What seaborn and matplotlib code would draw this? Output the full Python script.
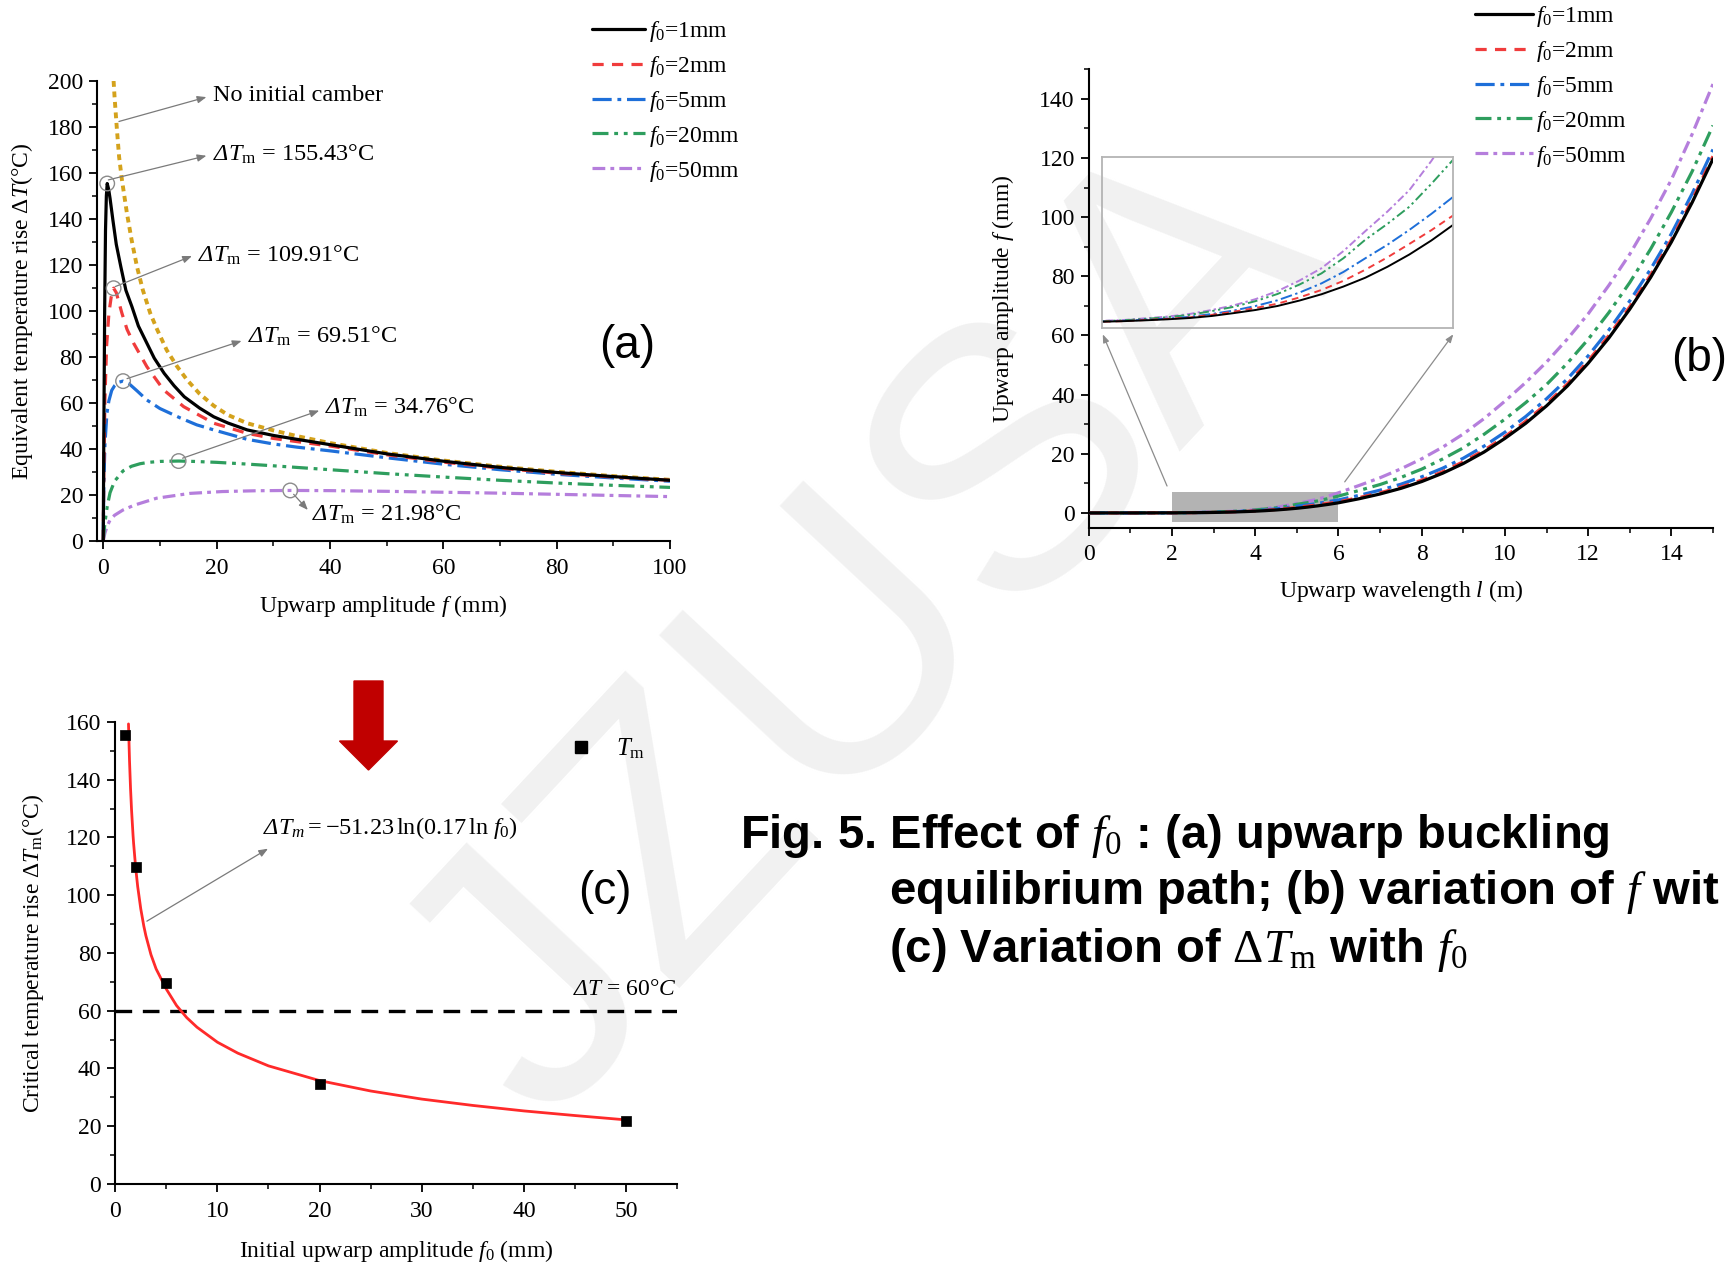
import numpy as np
import pandas as pd
import matplotlib
matplotlib.use("Agg")
import matplotlib.pyplot as plt
import seaborn as sns
from matplotlib.ticker import MultipleLocator
from matplotlib.patches import Rectangle, FancyArrow
from matplotlib.lines import Line2D

# ---------------- data: panel (a) ----------------
a_gold_f = [1.83, 2.0, 2.42, 2.8, 3.3, 4.18, 5.0, 5.95, 7.0, 8.3, 9.5, 11.2, 13, 14.8, 17, 19.5, 22, 25.4, 30, 34.2, 40, 50, 60, 70, 80, 90, 100]
a_gold_T = [200, 193, 178.7, 167, 157, 142.5, 131, 119.3, 109, 99, 92, 83, 76, 70, 64, 58.8, 54.8, 51.2, 48.1, 45.6, 42.6, 38.3, 35.0, 32.3, 30.1, 28.2, 26.6]

a_f1_f = [0, 0.1, 0.25, 0.4, 0.55, 0.7, 0.95, 1.2, 1.7, 2.3, 3.1, 4.0, 5.06, 6.2, 7.7, 9.0, 10.75, 12.5, 14.3, 17, 19.5, 22, 25.4, 30, 34.2, 40, 50, 60, 70, 80, 90, 100]
a_f1_T = [0, 45, 100, 135, 150, 155.43, 153, 149, 139.6, 129, 119.3, 109, 101.9, 93.5, 86, 79.5, 72.9, 67.5, 62.7, 57.8, 54, 51.3, 48.3, 45.9, 44.2, 41.9, 37.9, 34.7, 32.0, 29.8, 28.0, 26.4]

a_f2_f = [0, 0.1, 0.3, 0.6, 1.0, 1.4, 1.83, 2.3, 3.3, 4.2, 5.36, 7.7, 10.65, 14.2, 19.5, 25.4, 30, 34.2, 40, 50, 60, 70, 80, 90, 100]
a_f2_T = [0, 30, 62, 85, 99, 106, 109.91, 108, 99, 92, 86, 75.8, 65.7, 58.4, 51.2, 46.8, 44.6, 43.2, 41.3, 37.5, 34.3, 31.7, 29.5, 27.8, 26.4]

a_f5_f = [0, 0.1, 0.3, 0.65, 1.0, 1.5, 2.0, 2.7, 3.48, 4.5, 6, 7.7, 10, 13.6, 16.5, 19.5, 25.4, 30, 34.2, 40, 50, 60, 70, 80, 90, 100]
a_f5_T = [0, 24, 42, 55.5, 61, 65.5, 67.5, 69, 69.51, 68.5, 65.2, 61.3, 57.6, 53.5, 50.5, 48.3, 44.2, 42.2, 40.8, 39.2, 36.2, 33.4, 31.0, 29.0, 27.4, 26.0]

a_f20_f = [0, 0.3, 0.7, 1.2, 2, 3.5, 5, 6.5, 8, 10, 13.3, 16, 20, 25, 30, 40, 50, 60, 70, 80, 90, 100]
a_f20_T = [0, 8, 15, 21, 26, 30.5, 32.5, 33.6, 34.2, 34.6, 34.76, 34.6, 34.2, 33.5, 32.7, 31.0, 29.3, 27.8, 26.4, 25.2, 24.2, 23.3]

a_f50_f = [0, 0.3, 0.7, 1.2, 2, 3.5, 5.5, 9.4, 15.3, 21, 27, 33, 40, 50, 60, 70, 80, 90, 100]
a_f50_T = [0, 3.5, 6.5, 9.1, 11.2, 13.5, 15.6, 18.6, 20.7, 21.5, 21.85, 21.98, 21.9, 21.6, 21.2, 20.8, 20.3, 19.8, 19.3]

a_peak_f = [0.7, 1.83, 3.5, 13.3, 33.0]
a_peak_T = [155.43, 109.91, 69.51, 34.76, 21.98]

# ---------------- data: panel (b) ----------------
b_l = [0, 1, 2, 2.25, 2.5, 2.75, 3, 3.25, 3.5, 3.75, 4, 4.25, 4.5, 4.75, 5, 5.25, 5.5, 5.75, 6,
       6.5, 7, 7.5, 8, 8.5, 9, 9.5, 10, 10.5, 11, 11.5, 12, 12.5, 13, 13.5, 14, 14.5, 15]
b_f1 = [0, 0, 0.03, 0.05, 0.08, 0.115, 0.16, 0.23, 0.33, 0.44, 0.58, 0.77, 0.99, 1.26, 1.57, 1.95, 2.38, 2.87, 3.42,
        4.8, 6.4, 8.3, 10.6, 13.4, 16.7, 20.6, 25.2, 30.3, 36.2, 42.9, 50.6, 59.2, 68.9, 79.6, 91.6, 105.0, 119.7]
b_f2 = [0, 0, 0.03, 0.05, 0.09, 0.13, 0.18, 0.27, 0.38, 0.51, 0.66, 0.88, 1.14, 1.46, 1.85, 2.28, 2.75, 3.23, 3.75,
        5.2, 6.8, 8.75, 11.1, 13.9, 17.3, 21.2, 25.8, 31.0, 36.9, 43.6, 51.4, 60.0, 69.7, 80.4, 92.4, 105.8, 120.6]
b_f5 = [0, 0, 0.04, 0.06, 0.10, 0.14, 0.20, 0.30, 0.42, 0.58, 0.78, 1.05, 1.37, 1.77, 2.25, 2.72, 3.24, 3.80, 4.4,
        5.95, 7.7, 9.7, 12.2, 15.1, 18.5, 22.6, 27.3, 32.6, 38.6, 45.3, 53.1, 61.9, 71.7, 82.4, 94.4, 108.0, 122.9]
b_f20 = [0, 0, 0.05, 0.08, 0.13, 0.19, 0.27, 0.40, 0.55, 0.75, 1.0, 1.33, 1.72, 2.25, 2.9, 3.45, 4.05, 4.85, 5.7,
         7.6, 9.6, 12.0, 14.8, 18.2, 22.0, 26.6, 31.7, 37.3, 43.4, 50.6, 58.7, 67.8, 77.9, 89.2, 101.7, 115.5, 131.0]
b_f50 = [0, 0, 0.06, 0.09, 0.15, 0.21, 0.30, 0.44, 0.60, 0.82, 1.1, 1.47, 1.9, 2.5, 3.2, 3.88, 4.63, 5.65, 6.8,
         9.3, 11.9, 14.9, 18.3, 22.2, 26.7, 31.9, 37.8, 44.1, 51.0, 58.8, 67.3, 77.0, 87.5, 99.5, 112.7, 128.1, 145.0]

# ---------------- data: panel (c) ----------------
c_f0 = [1, 2, 5, 20, 50]
c_Tm = [155.43, 109.91, 69.51, 34.76, 21.98]
c_fit_f0 = [1.3, 1.4, 1.5, 1.6, 1.75, 1.8, 2, 2.2, 2.5, 2.8, 3, 3.5, 4, 4.5, 5, 6, 7, 8, 10, 12, 15, 20, 25, 30, 35, 40, 45, 50]
c_fit_T = [159.3, 146.6, 137.0, 129.5, 120.5, 118.0, 109.6, 103.0, 95.3, 89.3, 86.0, 79.4, 74.5, 71.0, 67.5, 61.8, 57.6, 54.3, 49.1, 45.3, 40.9, 35.8, 32.2, 29.4, 27.2, 25.3, 23.7, 22.2]
c_threshold = 60

legend_labels = [r"$f_0$=1mm", r"$f_0$=2mm", r"$f_0$=5mm", r"$f_0$=20mm", r"$f_0$=50mm"]

# ---------------- styling ----------------
sns.set_theme(style="ticks")
plt.rcParams["font.family"] = ["Liberation Serif", "DejaVu Serif"]
plt.rcParams.update({
    "mathtext.fontset": "custom",
    "mathtext.rm": "Liberation Serif",
    "mathtext.it": "Liberation Serif:italic",
    "mathtext.bf": "Liberation Serif:bold",
    "mathtext.sf": "Liberation Serif:italic",
    "axes.linewidth": 1.5,
    "axes.edgecolor": "black",
    "xtick.color": "black", "ytick.color": "black",
    "xtick.direction": "out", "ytick.direction": "out",
    "xtick.major.size": 6, "ytick.major.size": 6,
    "xtick.minor.size": 3.5, "ytick.minor.size": 3.5,
    "xtick.major.width": 1.3, "ytick.major.width": 1.3,
    "xtick.minor.width": 1.1, "ytick.minor.width": 1.1,
    "xtick.major.pad": 6, "ytick.major.pad": 4,
    "xtick.labelsize": 17, "ytick.labelsize": 17,
    "axes.labelsize": 17, "axes.labelcolor": "black",
    "text.color": "black",
})

COL = ["#000000", "#f03c3c", "#1e6fd9", "#2e9e5e", "#b57edc"]
GOLD = "#d4a21c"
LS = ["-", (0, (3.5, 2.6)), (0, (6, 1.8, 1.2, 1.8)), (0, (5, 1.8, 1.2, 1.8, 1.2, 1.8)), (0, (4, 1.6, 1.2, 1.6))]

W, H = 1731, 1264
def rect(x, y, w, h):
    return [x / W, 1 - (y + h) / H, w / W, h / H]

fig = plt.figure(figsize=(W / 100, H / 100), dpi=100)
fig.patch.set_facecolor("white")

# watermark
fig.text(875 / W, 1 - 632 / H, "JZUSA", rotation=47, fontsize=268, color="#f1f1f1",
         ha="center", va="center", family="Liberation Sans", zorder=-10)

axA = fig.add_axes(rect(97, 81, 573, 460))
axB = fig.add_axes(rect(1088.8, 69.3, 624.2, 458.4))
axC = fig.add_axes(rect(115.2, 721.9, 562.1, 462.1))
for ax in (axA, axB, axC):
    ax.set_facecolor("none")
    sns.despine(ax=ax)

# ---------------- panel (a) ----------------
a_series = [(a_f1_f, a_f1_T), (a_f2_f, a_f2_T), (a_f5_f, a_f5_T), (a_f20_f, a_f20_T), (a_f50_f, a_f50_T)]
sns.lineplot(x=a_gold_f, y=a_gold_T, ax=axA, color=GOLD, lw=2.8, linestyle=(0, (1.5, 1.2)),
             estimator=None, errorbar=None, sort=False)
for i in range(4, -1, -1):
    fx, fy = a_series[i]
    sns.lineplot(x=fx, y=fy, ax=axA, color=COL[i], lw=2.3, linestyle=LS[i],
                 estimator=None, errorbar=None, sort=False)
handlesA = [Line2D([], [], color=COL[i], lw=2.3, linestyle=LS[i]) for i in range(5)]
sns.scatterplot(x=a_peak_f, y=a_peak_T, ax=axA, marker="o", s=110, facecolor="none",
                edgecolor="#8a8a8a", linewidth=1.0, zorder=5)
axA.set_xlim(-1.1, 100)
axA.set_ylim(0, 200)
axA.xaxis.set_major_locator(MultipleLocator(20))
axA.xaxis.set_minor_locator(MultipleLocator(10))
axA.yaxis.set_major_locator(MultipleLocator(20))
axA.yaxis.set_minor_locator(MultipleLocator(10))
axA.set_xlabel(r"Upwarp amplitude $f$ (mm)", labelpad=10)
axA.set_ylabel(r"Equivalent temperature rise $\Delta T$(°C)", labelpad=9)

arrow_kw = dict(arrowstyle="-|>,head_length=0.45,head_width=0.18", color="#7a7a7a", lw=0.9,
                shrinkA=0, shrinkB=0)
DTm = r"$\mathsf{\Delta}\mathit{T}_\mathrm{m}$"
a_notes = [
    ("No initial camber", (19.4, 193.9), (2.77, 182.4), (18.2, 193.0)),
    (DTm + " = 155.43°C", (19.4, 168.0), (0.9, 157.0), (18.2, 167.5)),
    (DTm + " = 109.91°C", (16.8, 124.3), (2.1, 110.6), (15.65, 123.9)),
    (DTm + " = 69.51°C", (25.6, 88.8), (4.2, 70.6), (24.4, 87.0)),
    (DTm + " = 34.76°C", (39.2, 58.1), (14.0, 36.0), (38.1, 56.7)),
    (DTm + " = 21.98°C", (36.9, 11.5), (33.6, 20.3), (36.1, 13.5)),
]
for txt, tpos, s, e in a_notes:
    axA.annotate("", xy=e, xytext=s, arrowprops=arrow_kw, annotation_clip=False)
    axA.text(tpos[0], tpos[1], txt, fontsize=17.5, ha="left", va="center")

fig.legend(handlesA, legend_labels, loc="upper left", bbox_to_anchor=(592 / W, 1 - 19 / H),
           frameon=False, fontsize=17, handlelength=2.25, handletextpad=0.15,
           labelspacing=0.42, borderpad=0, borderaxespad=0)

fig.text(599.5 / W, 1 - 345.5 / H, "(a)", fontsize=33, family="Liberation Sans", ha="left", va="center")

# ---------------- panel (b) ----------------
b_series = [b_f1, b_f2, b_f5, b_f20, b_f50]
axB.add_patch(Rectangle((2, -3), 4, 10, facecolor="#b3b3b3", edgecolor="none", zorder=1))
for i in range(4, -1, -1):
    sns.lineplot(x=b_l, y=b_series[i], ax=axB, color=COL[i], lw=2.3, linestyle=LS[i],
                 estimator=None, errorbar=None, sort=False, zorder=3)
axB.set_xlim(0, 15)
axB.set_ylim(-5, 150)
axB.xaxis.set_major_locator(MultipleLocator(2))
axB.xaxis.set_minor_locator(MultipleLocator(1))
axB.set_yticks(range(0, 141, 20))
axB.yaxis.set_minor_locator(MultipleLocator(10))
axB.set_xlabel(r"Upwarp wavelength $l$ (m)", labelpad=9)
axB.set_ylabel(r"Upwarp amplitude $f$ (mm)", labelpad=17)

axIn = fig.add_axes(rect(1101.7, 156.7, 351.6, 171.6))
axIn.set_facecolor("none")
for i in range(4, -1, -1):
    sns.lineplot(x=b_l, y=b_series[i], ax=axIn, color=COL[i], lw=1.4, linestyle=LS[i],
                 estimator=None, errorbar=None, sort=False)
axIn.set_xlim(2, 6)
axIn.set_ylim(-0.2, 5.8)
axIn.set_xticks([])
axIn.set_yticks([])
axIn.set_xlabel("")
axIn.set_ylabel("")
for sp in axIn.spines.values():
    sp.set_visible(True)
    sp.set_color("#b4b4b4")
    sp.set_linewidth(1.3)

con_kw = dict(arrowstyle="-|>,head_length=0.4,head_width=0.15", color="#8c8c8c", lw=0.9,
              shrinkA=0, shrinkB=0)
axB.annotate("", xy=(0.003, -0.035), xycoords=axIn.transAxes, xytext=(1.88, 9.1),
             textcoords="data", arrowprops=con_kw, annotation_clip=False)
axB.annotate("", xy=(1.0, -0.035), xycoords=axIn.transAxes, xytext=(6.15, 10.5),
             textcoords="data", arrowprops=con_kw, annotation_clip=False)

handlesB = [Line2D([], [], color=COL[i], lw=2.3, linestyle=LS[i]) for i in range(5)]
fig.legend(handlesB, legend_labels, loc="upper left", bbox_to_anchor=(1475 / W, 1 - 4 / H),
           frameon=False, fontsize=17, handlelength=2.45, handletextpad=0.15,
           labelspacing=0.42, borderpad=0, borderaxespad=0)

fig.text(1671 / W, 1 - 359 / H, "(b)", fontsize=33, family="Liberation Sans", ha="left", va="center")

# ---------------- panel (c) ----------------
axC.axhline(c_threshold, color="black", lw=2.4, linestyle=(0, (5, 3.2)), zorder=2)
sns.lineplot(x=c_fit_f0, y=c_fit_T, ax=axC, color="#ff2a2a", lw=2.0, estimator=None,
             errorbar=None, sort=False, zorder=3)
sns.scatterplot(x=c_f0, y=c_Tm, ax=axC, marker="s", s=60, color="black", edgecolor="black",
                linewidth=0.5, zorder=4)
axC.set_xlim(0, 55)
axC.set_ylim(0, 160)
axC.xaxis.set_major_locator(MultipleLocator(10))
axC.xaxis.set_minor_locator(MultipleLocator(5))
axC.yaxis.set_major_locator(MultipleLocator(20))
axC.yaxis.set_minor_locator(MultipleLocator(10))
axC.set_xlabel(r"Initial upwarp amplitude $f_0$ (mm)", labelpad=12)
axC.set_ylabel(r"Critical temperature rise $\Delta T_\mathrm{m}$(°C)", labelpad=14)

axC.annotate("", xy=(14.95, 116.1), xytext=(3.1, 91.0), arrowprops=arrow_kw)
axC.text(14.5, 123.1, r"$\mathsf{\Delta}\mathit{T_m} = -51.23\,\ln(0.17\,\ln\,f_0)$",
         fontsize=17.5, ha="left", va="center")
axC.text(44.8, 67.2, r"$\mathsf{\Delta}\mathit{T}$ = 60°$\mathit{C}$", fontsize=17, ha="left", va="center")

handleC = [Line2D([], [], color="black", marker="s", linestyle="none", markersize=8)]
axC.legend(handleC, [r"$T_\mathrm{m}$"], loc="center left", bbox_to_anchor=(569 / W, 1 - 749 / H),
           bbox_transform=fig.transFigure, frameon=False, fontsize=18, handlelength=1.0,
           handletextpad=0.9, borderpad=0, borderaxespad=0)

fig.text(578.5 / W, 1 - 892 / H, "(c)", fontsize=33, family="Liberation Sans", ha="left", va="center")

# red arrow
fig.add_artist(FancyArrow(3.685, 5.83, 0, -0.89, width=0.29, head_width=0.58, head_length=0.29,
                          length_includes_head=True, color="#c00000", transform=fig.dpi_scale_trans))

# caption
cap_kw = dict(fontsize=34, fontweight="bold", family="Liberation Sans", ha="left", va="center")
fig.text(740 / W, 1 - 836 / H, r"Fig. 5. Effect of $f_0$ : (a) upwarp buckling", **cap_kw)
fig.text(889 / W, 1 - 892 / H, r"equilibrium path; (b) variation of $f$ wit", **cap_kw)
fig.text(889 / W, 1 - 950 / H, r"(c) Variation of $\Delta T_\mathrm{m}$ with $f_0$", **cap_kw)

fig.savefig("out.png", dpi=100)
